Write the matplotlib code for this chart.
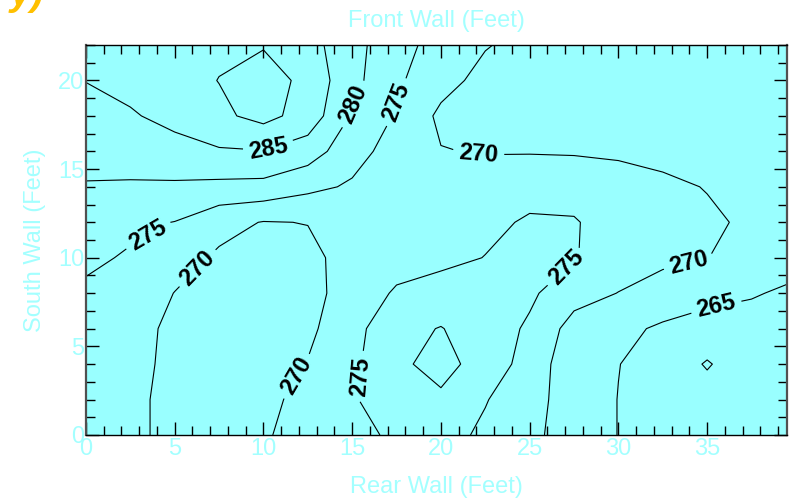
import numpy as np
import matplotlib
matplotlib.use("Agg")
import matplotlib.pyplot as plt
from matplotlib.ticker import MultipleLocator

plt.rcParams['font.family'] = ['Liberation Sans', 'DejaVu Sans']

# grid positions (feet)
x_ft = [0, 2.5, 5, 7.5, 10, 12.5, 15, 17.5, 20, 22.5, 25, 27.5, 30, 32.5, 35, 37.5, 39.5]
y_ft = [0, 2, 4, 6, 8, 10, 12, 14, 16, 18, 20, 22]

# temperature, one row per y position (deg F)
t_y00 = [272, 270.8, 269, 268, 269.6, 271.5, 273.5, 275.9, 277, 274, 271, 268, 264.9, 263.5, 262.8, 263, 263.5]
t_y02 = [272.3, 270.8, 269, 267.5, 269, 271.2, 274.6, 277.3, 279, 275.3, 271.5, 268, 264.9, 263, 262, 262.5, 263]
t_y04 = [272.5, 271, 269.2, 267.5, 268.5, 270.2, 274, 278.8, 282, 277.5, 273.3, 266.4, 265.1, 263, 259.6, 263, 263.5]
t_y06 = [273.5, 272, 268.8, 267.3, 267.8, 269, 273.3, 278.6, 280.2, 277.5, 274.3, 268, 266.2, 264.3, 263, 263.5, 264]
t_y08 = [274.2, 273, 269.9, 268, 267.8, 268.5, 272, 275.6, 277, 276.5, 275.8, 272, 269.9, 268, 266.5, 265.3, 264.5]
t_y10 = [275.9, 274.5, 272, 269.3, 268.5, 269, 271.5, 273, 273.8, 275.1, 276.5, 275.3, 272.5, 271, 270.1, 268, 266.5]
t_y12 = [277, 276, 274.9, 271.5, 269.8, 270.1, 271.5, 272.5, 273.2, 274, 275.5, 275.4, 272.6, 271.5, 270.8, 269.2, 267]
t_y14 = [279.7, 279.5, 279.3, 278.8, 278.5, 276.2, 274.4, 273.5, 273, 273, 273.5, 273, 272, 271, 269.8, 268.5, 267.5]
t_y16 = [281.5, 282, 283.2, 284.5, 284.8, 282.5, 276.8, 273, 270.2, 269.7, 269.7, 269.6, 269.3, 268.6, 268, 267.5, 267.3]
t_y18 = [283.3, 284.5, 286.5, 289, 291.5, 288, 279.5, 274.5, 269, 268.5, 268.3, 268, 268, 267.8, 267.6, 267.5, 267.5]
t_y20 = [285.1, 286.5, 288.2, 290.1, 292.5, 288.5, 281.5, 275.8, 271.7, 268.5, 268.4, 268.2, 268, 267.8, 267.6, 267.5, 267.5]
t_y22 = [287, 287.8, 288.5, 289.2, 289.6, 286.9, 281.7, 276.7, 273.2, 270.3, 268.5, 268.2, 268, 267.8, 267.7, 267.6, 267.5]

levels = [260, 265, 270, 275, 280, 285, 290]

temps = np.array([t_y00, t_y02, t_y04, t_y06, t_y08, t_y10,
                  t_y12, t_y14, t_y16, t_y18, t_y20, t_y22])

# where the labels sit on the lines
label_spots = [(10.3, 16.1), (15.2, 18.6), (3.6, 11.1), (17.1, 18.9),
               (22.1, 15.7), (15.5, 3.3), (6.4, 9.3), (12.1, 3.2),
               (27.2, 9.3), (34.0, 9.6), (35.5, 7.3)]

text_cyan = '#a3ffff'

fig = plt.figure(figsize=(7.96, 5.03), dpi=100)
ax = fig.add_axes([0.108, 0.1352, 0.8807, 0.7753])
ax.set_facecolor('#99ffff')

cs = ax.contour(x_ft, y_ft, temps, levels=levels, colors='black', linewidths=0.8)
plt.rcParams['font.weight'] = 'bold'
ax.clabel(cs, manual=label_spots, fmt='%d', fontsize=17,
          inline=True, inline_spacing=6, colors='black')
plt.rcParams['font.weight'] = 'normal'

ax.set_xlim(0, 39.5)
ax.set_ylim(0, 22)
ax.xaxis.set_major_locator(MultipleLocator(5))
ax.xaxis.set_minor_locator(MultipleLocator(1))
ax.yaxis.set_major_locator(MultipleLocator(5))
ax.yaxis.set_minor_locator(MultipleLocator(1))

ax.tick_params(which='both', direction='in', top=True, right=True, color='black', width=1)
ax.tick_params(which='major', length=9.5, labelsize=17, labelcolor=text_cyan)
ax.tick_params(which='minor', length=6.5)
ax.tick_params(axis='x', which='major', pad=2)
ax.tick_params(axis='y', which='major', pad=1)

for side in ['top', 'bottom']:
    ax.spines[side].set_color('black')
    ax.spines[side].set_linewidth(1.0)
for side in ['left', 'right']:
    ax.spines[side].set_color('#505050')
    ax.spines[side].set_linewidth(1.6)

ax.set_xlabel('Rear Wall (Feet)', fontsize=17, color=text_cyan)
ax.xaxis.set_label_coords(0.5, -0.105)
ax.set_ylabel('South Wall (Feet)', fontsize=17, color=text_cyan)
ax.yaxis.set_label_coords(-0.057, 0.5)
ax.set_title('Front Wall (Feet)', fontsize=17, color=text_cyan, pad=13)

# cut-off heading at the top left corner
fig.text(0.012, 1 - 5 / 503, 'y)', color='#ffc000', fontsize=28,
         fontweight='bold', fontstyle='italic', va='baseline')

fig.savefig('out.png', dpi=100)
